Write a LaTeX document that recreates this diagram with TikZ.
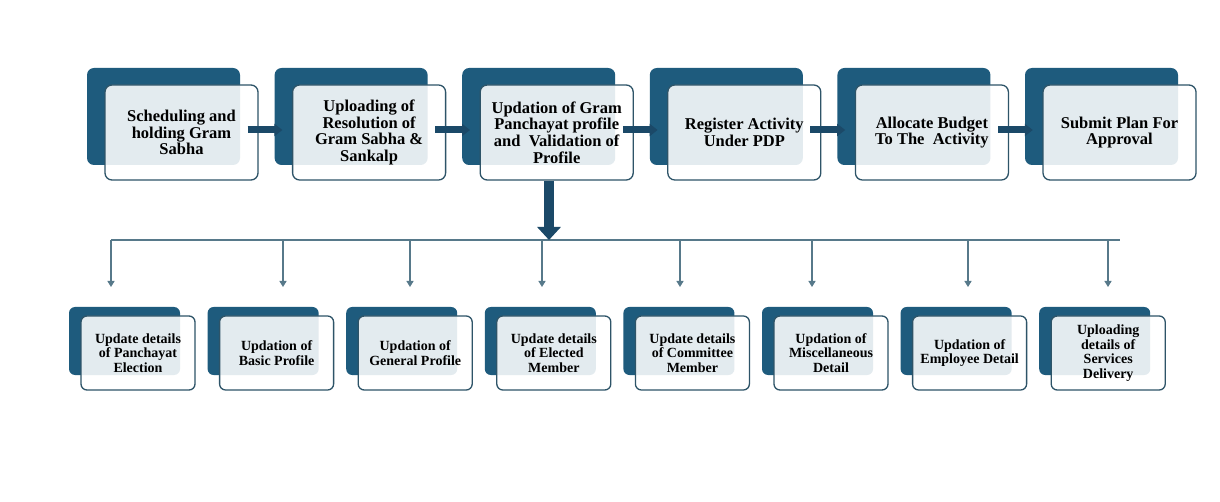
\documentclass[tikz,border=0pt]{standalone}
\usepackage{fontspec}
\setmainfont{Liberation Serif}
\usetikzlibrary{arrows.meta}
\definecolor{BackBlue}{HTML}{1E5B7D}
\definecolor{EdgeBlue}{HTML}{2E5468}
\definecolor{ArrowBlue}{HTML}{1B4968}
\definecolor{LineBlue}{HTML}{57798A}

\begin{document}
\begin{tikzpicture}[x = 1pt, y = -1pt]
\useasboundingbox[fill = white] (0,0) rectangle (1220,502);
\tikzstyle{BackStyle}=[shape = rectangle,
                       rounded corners = 7pt,
                       fill = BackBlue,
                       minimum width = 153pt,
                       minimum height = 97pt,
                       inner sep = 0pt]
\tikzstyle{FrontStyle}=[shape = rectangle,
                        rounded corners = 7pt,
                        draw = EdgeBlue, line width = 1.3pt,
                        fill = white, fill opacity = 0.88, text opacity = 1,
                        minimum width = 153pt,
                        minimum height = 95pt,
                        inner sep = 0pt, align = center,
                        font = \bfseries\fontsize{16.5}{16.8}\selectfont]
% top row
\node[BackStyle] (b1) at (163.5, 116.5) {};
\node[FrontStyle] (f1) at (181.5, 132.5) {Scheduling and\\holding Gram\\Sabha};
\node[BackStyle] (b2) at (351.1, 116.5) {};
\node[FrontStyle] (f2) at (369.1, 132.5) {Uploading of\\Resolution of\\Gram Sabha \&\\Sankalp};
\node[BackStyle] (b3) at (538.7, 116.5) {};
\node[FrontStyle] (f3) at (556.7, 132.5) {Updation of Gram\\Panchayat profile\\and\ \ Validation of\\Profile};
\node[BackStyle] (b4) at (726.3, 116.5) {};
\node[FrontStyle] (f4) at (744.3, 132.5) {Register Activity\\Under PDP};
\node[BackStyle] (b5) at (913.9, 116.5) {};
\node[FrontStyle] (f5) at (931.9, 132.5) {Allocate Budget\\To The\ \ Activity};
\node[BackStyle] (b6) at (1101.5, 116.5) {};
\node[FrontStyle] (f6) at (1119.5, 132.5) {Submit Plan For\\Approval};
\tikzstyle{RightArrow}=[draw = ArrowBlue, line width = 7pt,
                        -{Triangle[length = 8pt, width = 12pt]}]
\draw[RightArrow] ([xshift = -11pt, yshift = 2.5pt]f1.east) -- ([xshift = 8pt, yshift = 2.5pt]f1.east -| b2.west);
\draw[RightArrow] ([xshift = -11pt, yshift = 2.5pt]f2.east) -- ([xshift = 8pt, yshift = 2.5pt]f2.east -| b3.west);
\draw[RightArrow] ([xshift = -11pt, yshift = 2.5pt]f3.east) -- ([xshift = 8pt, yshift = 2.5pt]f3.east -| b4.west);
\draw[RightArrow] ([xshift = -11pt, yshift = 2.5pt]f4.east) -- ([xshift = 8pt, yshift = 2.5pt]f4.east -| b5.west);
\draw[RightArrow] ([xshift = -11pt, yshift = 2.5pt]f5.east) -- ([xshift = 8pt, yshift = 2.5pt]f5.east -| b6.west);
% branch line
\coordinate (LineL) at (111, 240);
\coordinate (LineR) at (1120, 240);
\coordinate (Hub) at (549, 240);
\tikzstyle{LineStyle}=[draw = LineBlue, line width = 1.8pt]
\draw[LineStyle] (LineL) -- (LineR);
\tikzstyle{DownArrow}=[draw = ArrowBlue, line width = 10pt,
                       -{Triangle[length = 13pt, width = 23pt]}]
\draw[DownArrow] (Hub |- f3.south) -- (Hub);
\tikzstyle{DropStyle}=[draw = LineBlue, line width = 1.3pt,
                       -{Triangle[length = 6pt, width = 7pt]}]
\coordinate (e1) at (111, 287);
\coordinate (e2) at (283, 287);
\coordinate (e3) at (410, 287);
\coordinate (e4) at (542, 287);
\coordinate (e5) at (680, 287);
\coordinate (e6) at (812, 287);
\coordinate (e7) at (968, 287);
\coordinate (e8) at (1108, 287);
\draw[DropStyle] (e1 |- LineL) -- (e1);
\draw[DropStyle] (e2 |- LineL) -- (e2);
\draw[DropStyle] (e3 |- LineL) -- (e3);
\draw[DropStyle] (e4 |- LineL) -- (e4);
\draw[DropStyle] (e5 |- LineL) -- (e5);
\draw[DropStyle] (e6 |- LineL) -- (e6);
\draw[DropStyle] (e7 |- LineL) -- (e7);
\draw[DropStyle] (e8 |- LineL) -- (e8);
% bottom row
\tikzstyle{BackSmall}=[BackStyle, rounded corners = 6pt,
                       minimum width = 111pt, minimum height = 68pt]
\tikzstyle{FrontSmall}=[FrontStyle, rounded corners = 6pt,
                        minimum width = 114pt, minimum height = 74pt,
                        font = \bfseries\fontsize{14}{14.6}\selectfont]
\node[BackSmall] (s1) at (124.5, 341) {};
\node[FrontSmall] (t1) at (138, 353) {Update details\\of Panchayat\\Election};
\node[BackSmall] (s2) at (263.1, 341) {};
\node[FrontSmall] (t2) at (276.6, 353) {Updation of\\Basic Profile};
\node[BackSmall] (s3) at (401.7, 341) {};
\node[FrontSmall] (t3) at (415.2, 353) {Updation of\\General Profile};
\node[BackSmall] (s4) at (540.3, 341) {};
\node[FrontSmall] (t4) at (553.8, 353) {Update details\\of Elected\\Member};
\node[BackSmall] (s5) at (678.9, 341) {};
\node[FrontSmall] (t5) at (692.4, 353) {Update details\\of Committee\\Member};
\node[BackSmall] (s6) at (817.5, 341) {};
\node[FrontSmall] (t6) at (831, 353) {Updation of\\Miscellaneous\\Detail};
\node[BackSmall] (s7) at (956.1, 341) {};
\node[FrontSmall] (t7) at (969.6, 353) {Updation of\\Employee Detail};
\node[BackSmall] (s8) at (1094.7, 341) {};
\node[FrontSmall] (t8) at (1108.2, 353) {Uploading\\details of\\Services\\Delivery};
\end{tikzpicture}
\end{document}
